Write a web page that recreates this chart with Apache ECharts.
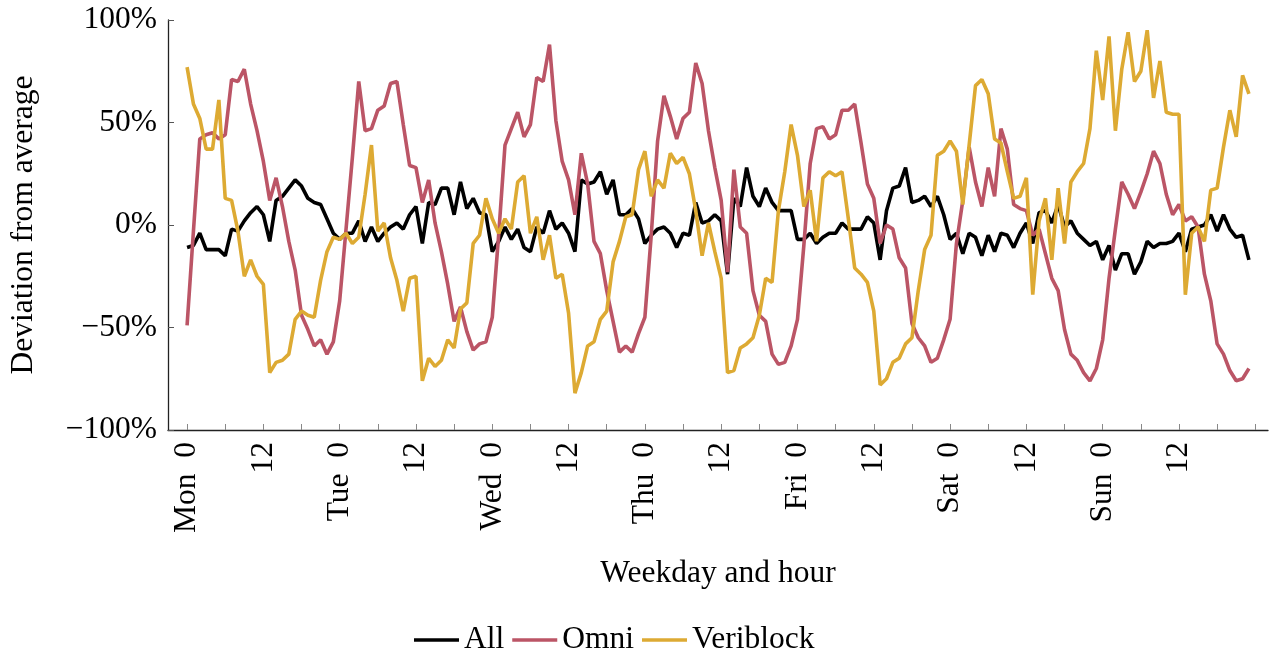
<!DOCTYPE html>
<html>
<head>
<meta charset="utf-8">
<script src="https://cdn.jsdelivr.net/npm/echarts@6/dist/echarts.min.js"></script>
<style>
  html, body { margin: 0; padding: 0; background: #fff; }
  #chart { width: 1270px; height: 655px; }
</style>
</head>
<body>
<div id="chart"></div>
<script>
// weekday names, one per 24 hours
var days = ['Mon', 'Tue', 'Wed', 'Thu', 'Fri', 'Sat', 'Sun'];
var tickHours = [0, 6, 12, 18, 24, 30, 36, 42, 48, 54, 60, 66, 72, 78, 84, 90, 96, 102, 108, 114, 120, 126, 132, 138, 144, 150, 156, 162, 168];
var labelHours = [0, 12, 24, 36, 48, 60, 72, 84, 96, 108, 120, 132, 144, 156];
var yTicks = [-100, -50, 0, 50, 100];

// deviation from average in %, Mon 0h .. Sun 23h (one row per day)
var allVals = [
  -11, -10, -4, -12, -12, -12, -15, -2, -3, 2, 6, 9, 5, -8, 12, 14, 18, 22, 19, 13, 11, 10, 3, -4,
  -7, -4, -4, 2, -8, -1, -8, -4, -1, 1, -2, 5, 9, -9, 11, 10, 18, 18, 5, 21, 8, 13, 6, 5,
  -13, -8, -1, -7, -2, -11, -13, -1, -4, 7, -2, 1, -4, -13, 22, 20, 21, 26, 15, 22, 5, 5, 8, 3,
  -9, -5, -2, -1, -4, -11, -4, -5, 11, 1, 2, 5, 2, -24, 13, 9, 28, 14, 9, 18, 11, 7, 7, 7,
  -7, -7, -4, -9, -6, -4, -4, 1, -2, -2, -2, 4, 1, -17, 7, 18, 19, 28, 11, 12, 14, 9, 14, 5,
  -7, -4, -14, -4, -6, -15, -5, -13, -4, -5, -11, -4, 1, -9, 6, 7, 1, 10, -1, 2, -4, -7, -10, -8,
  -17, -10, -22, -14, -14, -24, -18, -8, -11, -9, -9, -8, -4, -13, -2, -1, 0, 5, -3, 5, -2, -6, -5, -17
];
var omniVals = [
  -49, -3, 42, 44, 45, 42, 44, 71, 70, 76, 59, 46, 31, 12, 23, 9, -8, -22, -44, -51, -59, -56, -63, -57,
  -37, -2, 33, 70, 46, 47, 56, 58, 69, 70, 49, 29, 28, 11, 22, 1, -13, -29, -47, -40, -52, -61, -58, -57,
  -45, -5, 39, 47, 55, 43, 49, 72, 70, 88, 51, 31, 22, 5, 35, 20, -8, -14, -32, -47, -62, -59, -62, -53,
  -45, -5, 41, 63, 53, 42, 52, 55, 79, 69, 46, 28, 12, -23, 27, -1, -4, -32, -44, -47, -63, -68, -67, -59,
  -46, -10, 30, 47, 48, 42, 44, 56, 56, 59, 40, 20, 13, -9, 0, -2, -16, -21, -48, -55, -59, -67, -65, -56,
  -46, -9, 12, 38, 21, 9, 28, 14, 47, 37, 10, 8, 7, -5, -2, -14, -26, -32, -51, -63, -66, -72, -76, -70,
  -56, -26, -2, 21, 15, 8, 16, 25, 36, 30, 15, 5, 10, 2, 4, -1, -24, -37, -58, -63, -71, -76, -75, -70
];
var veriblockVals = [
  77, 59, 52, 37, 37, 61, 13, 12, -3, -25, -17, -25, -29, -72, -67, -66, -63, -46, -42, -44, -45, -27, -13, -6,
  -7, -4, -9, -6, 15, 39, -3, 1, -16, -27, -42, -26, -25, -76, -65, -69, -66, -56, -60, -41, -38, -9, -5, 13,
  3, -4, 3, -2, 21, 24, -4, 4, -17, -5, -26, -24, -43, -82, -72, -59, -57, -46, -42, -18, -8, 4, 5, 27,
  36, 14, 22, 18, 35, 30, 33, 25, 7, -15, 1, -13, -26, -72, -71, -60, -58, -55, -44, -26, -28, 7, 26, 49,
  34, 9, 17, -8, 23, 26, 24, 26, 3, -21, -24, -28, -42, -78, -75, -67, -65, -58, -55, -32, -12, -5, 34, 36,
  41, 36, 10, 39, 68, 71, 64, 42, 40, 26, 13, 14, 23, -34, 2, 13, -17, 18, -9, 21, 26, 30, 47, 85,
  61, 92, 46, 76, 94, 70, 75, 95, 62, 80, 55, 54, 54, -34, -4, -1, -8, 17, 18, 38, 56, 43, 73, 64
];

var font = 'Liberation Serif';
var fs = 31.5;

// pair every value with its hour of the week
function toPoints(vals) {
  return vals.map(function (v, i) { return [i, v]; });
}

var chart = echarts.init(document.getElementById('chart'), null, { renderer: 'canvas' });
chart.setOption({
  animation: false,
  textStyle: { fontFamily: font, color: '#000' },
  grid: { left: 166, right: 2, top: 20, bottom: 225 },
  legend: {
    left: 409,
    top: 619,
    icon: 'rect',
    itemWidth: 45,
    itemHeight: 3.5,
    itemGap: 8,
    textStyle: { fontFamily: font, fontSize: fs, color: '#000' },
    data: ['All', 'Omni', 'Veriblock']
  },
  xAxis: {
    type: 'value',
    min: -3,
    max: 170,
    name: 'Weekday and hour',
    nameLocation: 'middle',
    nameGap: 128,
    nameTextStyle: { fontFamily: font, fontSize: fs, color: '#000' },
    splitLine: { show: false },
    axisLine: { onZero: false, lineStyle: { color: '#222', width: 1.3 } },
    axisTick: { inside: true, length: 6, customValues: tickHours, lineStyle: { color: '#888' } },
    axisLabel: {
      customValues: labelHours,
      rotate: 90,
      margin: 12,
      fontFamily: font,
      fontSize: fs,
      color: '#000',
      formatter: function (v) {
        var h = v % 24;
        if (h === 0) return days[v / 24] + '  0';
        return String(h);
      }
    }
  },
  yAxis: {
    type: 'value',
    min: -100,
    max: 100,
    interval: 50,
    name: 'Deviation from average',
    nameLocation: 'middle',
    nameGap: 128,
    nameTextStyle: { fontFamily: font, fontSize: fs, color: '#000' },
    splitLine: { show: false },
    axisLine: { show: true, onZero: false, lineStyle: { color: '#222', width: 1.3 } },
    axisTick: { show: true, inside: true, length: 6, lineStyle: { color: '#555' } },
    axisLabel: {
      margin: 11,
      fontFamily: font,
      fontSize: fs,
      color: '#000',
      formatter: function (v) {
        return (v < 0 ? '\u2212' + (-v) : v) + '%';
      }
    }
  },
  series: [
    { name: 'All', type: 'line', data: toPoints(allVals), showSymbol: false,
      lineStyle: { width: 3.6, color: '#000' }, itemStyle: { color: '#000' } },
    { name: 'Omni', type: 'line', data: toPoints(omniVals), showSymbol: false,
      lineStyle: { width: 3.6, color: '#BB5566' }, itemStyle: { color: '#BB5566' } },
    { name: 'Veriblock', type: 'line', data: toPoints(veriblockVals), showSymbol: false,
      lineStyle: { width: 3.6, color: '#DDAA33' }, itemStyle: { color: '#DDAA33' } }
  ]
});
</script>
</body>
</html>
